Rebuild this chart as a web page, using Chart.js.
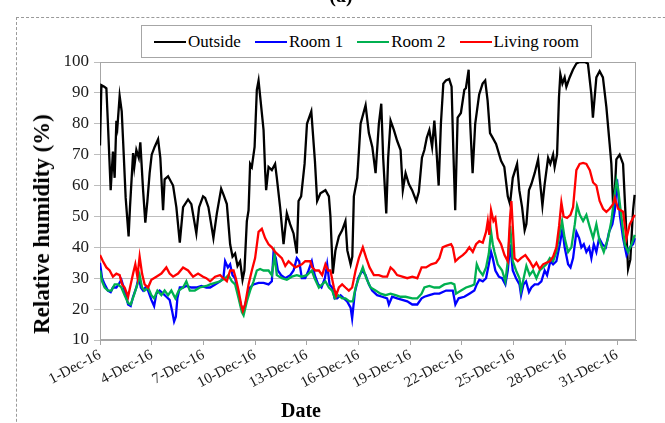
<!DOCTYPE html>
<html>
<head>
<meta charset="utf-8">
<script src="https://cdn.jsdelivr.net/npm/chart.js@4.4.1/dist/chart.umd.min.js"></script>
<style>
  html, body { margin:0; padding:0; background:#fff; }
  #wrap { position:relative; width:665px; height:423px; overflow:hidden; background:#fff; font-family:"Liberation Serif", "Times New Roman", serif; }
  #frame { position:absolute; left:16px; top:17px; width:700px; height:450px; border:1px dashed #9a9a9a; box-sizing:border-box; }
  #c { position:absolute; left:0; top:0; }
  #legend { position:absolute; left:141px; top:25px; width:451px; height:33px; border:1px solid #a6a6a6; box-sizing:border-box; background:#fff;
            display:flex; align-items:center; justify-content:center; font-size:17px; color:#000; }
  .it { display:flex; align-items:center; margin:0 7px; white-space:nowrap; }
  .sw { display:inline-block; width:32px; height:2px; margin-right:2px; }
  #ytitle { position:absolute; left:42px; top:224px; transform:translate(-50%,-50%) rotate(-90deg); font-weight:bold; font-size:23px; white-space:nowrap; color:#000; }
  #xtitle { position:absolute; left:301px; top:410px; transform:translate(-50%,-50%); font-weight:bold; font-size:20px; color:#000; }
  #ptitle { position:absolute; left:341px; top:-5px; transform:translate(-50%,-50%); font-weight:bold; font-size:20px; color:#000; }
</style>
</head>
<body>
<div id="wrap">
  <div id="frame"></div>
  <canvas id="c" width="665" height="423"></canvas>
  <div id="ptitle">(a)</div>
  <div id="legend"></div>
  <div id="ytitle">Relative humidity (%)</div>
  <div id="xtitle">Date</div>
</div>
<script>
// ---- Data (x = days since 1-Dec-16 00:00, y = relative humidity %) ----
const tickDays = [0, 3, 6, 9, 12, 15, 18, 21, 24, 27, 30];
const tickLabels = ['1-Dec-16','4-Dec-16','7-Dec-16','10-Dec-16','13-Dec-16','16-Dec-16','19-Dec-16','22-Dec-16','25-Dec-16','28-Dec-16','31-Dec-16'];
const seriesNames = ['Outside', 'Room 1', 'Room 2', 'Living room'];

const outsideDays = [0.00,0.08,0.25,0.37,0.46,0.62,0.75,0.85,0.95,1.01,1.14,1.26,1.34,1.49,1.66,1.74,1.92,1.99,2.11,2.25,2.34,2.50,2.63,2.75,2.88,3.00,3.17,3.37,3.50,3.66,3.75,3.95,4.24,4.43,4.63,4.82,5.11,5.30,5.59,5.75,5.98,6.10,6.29,6.58,6.78,7.03,7.17,7.36,7.55,7.69,7.84,7.98,8.13,8.27,8.38,8.52,8.62,8.71,8.81,8.97,9.10,9.20,9.29,9.49,9.58,9.64,9.78,9.97,10.16,10.26,10.45,10.65,10.84,11.03,11.23,11.42,11.52,11.67,11.87,12.01,12.26,12.47,12.60,12.79,13.08,13.28,13.37,13.51,13.66,13.86,14.05,14.24,14.35,14.54,14.64,14.73,14.93,15.12,15.31,15.41,15.60,15.80,15.99,16.18,16.32,16.43,16.61,16.72,16.86,17.05,17.24,17.44,17.57,17.73,17.92,18.11,18.35,18.50,18.68,18.82,18.96,19.11,19.27,19.40,19.50,19.65,19.78,19.92,20.07,20.26,20.40,20.50,20.61,20.75,20.94,21.14,21.23,21.39,21.48,21.62,21.77,22.00,22.20,22.35,22.49,22.63,22.78,22.98,23.27,23.46,23.66,23.79,23.95,24.20,24.33,24.49,24.64,24.74,24.89,25.03,25.22,25.42,25.51,25.67,25.80,26.00,26.13,26.29,26.38,26.52,26.63,26.71,26.83,26.96,27.06,27.25,27.44,27.64,27.83,28.12,28.31,28.51,28.60,28.80,28.99,29.18,29.38,29.57,29.67,29.80,29.96,30.15,30.35,30.48,30.64,30.77,30.93,31.02];
const outsideRH = [73,92.5,92,91.5,80,58.5,71,62.5,81,79,89,84,74.5,56,43.5,53,70.5,66,71.5,69,74,58.5,48,55,64,70,72.5,75,69,52,62,63,60,53,41.5,53,55.5,54,44.5,53,56.5,56,53,43,51,59,57,54,41,37,38,34,35.5,29.5,32.5,48.5,52,67,66,72.5,91,94,89,78,65,58.5,66,65,67,62.5,53,41,51,47.5,44.5,38,55,56.5,67,80,84,68,55,57.5,58.5,56.5,50,31.5,39,43.5,45.5,48.5,39,34.5,37,56.5,62.5,80,84,86,77,72.5,64,80,86.5,69,51,69,81,78,74.5,71.5,58.5,64,60.5,58.5,55,58,69,71.5,75.5,78,72.5,81,73.5,60,80,93,94,94.5,92,71.5,52,82,83.5,91,91.5,97.5,80,64,80,89.5,93,94,87.5,77,75.5,73.5,68,66,56.5,54,62.5,67,58.5,53,45.5,47.5,58.5,60.5,64,68.5,62.5,53.5,60.5,69,67,70,66,70,88.5,96,93,95,92,95,97.5,99.5,100,100,99.5,89.5,82,95,97,95,85.5,73.5,67,50,68.5,70,67,52,33,36,52,57];

const room1Days = [0.00,0.12,0.27,0.46,0.62,0.75,0.95,1.08,1.24,1.43,1.63,1.78,1.92,2.11,2.25,2.37,2.50,2.63,2.79,2.98,3.14,3.27,3.46,3.66,3.85,4.04,4.18,4.30,4.40,4.49,4.63,4.82,5.01,5.30,5.59,5.88,6.17,6.39,6.68,6.97,7.16,7.26,7.42,7.55,7.69,7.84,8.04,8.23,8.33,8.52,8.71,8.91,9.20,9.49,9.78,9.97,10.07,10.20,10.32,10.51,10.75,11.04,11.23,11.42,11.56,11.71,11.91,12.10,12.29,12.46,12.66,12.85,13.05,13.18,13.32,13.47,13.61,13.76,13.96,14.15,14.34,14.54,14.63,14.79,14.98,15.21,15.41,15.60,15.79,16.08,16.37,16.66,16.76,16.95,17.24,17.54,17.83,18.12,18.41,18.66,18.82,19.11,19.40,19.69,20.08,20.47,20.62,20.81,21.14,21.43,21.72,21.86,22.01,22.21,22.40,22.56,22.69,22.79,22.94,23.14,23.33,23.52,23.66,23.80,23.95,24.14,24.34,24.43,24.57,24.72,24.89,25.03,25.22,25.42,25.61,25.80,25.94,26.13,26.29,26.48,26.68,26.83,26.96,27.16,27.30,27.45,27.64,27.80,27.93,28.07,28.22,28.38,28.51,28.65,28.80,28.96,29.15,29.35,29.54,29.73,29.87,30.00,30.16,30.35,30.55,30.74,30.93,31.03];
const room1RH = [35,30,28,26,25.5,27,27,28,29.5,26,21.5,21,24,27,30.5,27,26,27,26,23,21,25,26,25,24,23,19.5,16,17.5,23.5,27,27,27.5,27,27,27.5,27,27,28,29,30,35.5,33.5,34.5,31,30,24.5,20,19.5,23.5,27,28,28.5,28.5,28,29,38.5,36.5,32.5,31,30,31,32.5,36.5,35.5,30,30,32.5,35.5,31,28,27,30,34.5,28,27,23.5,23.5,24.5,23.5,22.5,20.5,17,25.5,30,32.5,31,28,26,24.5,24,23.5,21.5,24,23.5,23,22.5,21.5,21.5,23.5,24,24.5,25,25,26,26,21.5,23.5,24,25,26,28,29.5,29,30,34.5,38.5,36.5,32.5,30.5,30,28,32.5,41,32.5,30,28,24.5,28,29,25.5,27,28,28,29,32.5,31,35.5,34.5,35.5,41,46,40,34.5,33.5,36.5,45,43,40,41,38.5,40,36.5,41,38.5,43,41,40,45,47.5,52,62,50.5,43,37.5,40,41,43];

const room2Days = [0.00,0.12,0.27,0.46,0.66,0.85,1.05,1.24,1.43,1.63,1.78,1.97,2.17,2.30,2.44,2.59,2.79,2.98,3.14,3.33,3.56,3.75,3.95,4.14,4.37,4.57,4.82,5.01,5.21,5.50,5.79,6.17,6.39,6.68,6.97,7.26,7.45,7.65,7.84,8.04,8.23,8.33,8.52,8.71,8.91,9.10,9.29,9.49,9.78,9.97,10.13,10.26,10.55,10.84,11.13,11.42,11.71,12.01,12.29,12.45,12.70,12.89,13.08,13.28,13.47,13.63,13.82,14.05,14.24,14.48,14.67,14.83,15.02,15.25,15.45,15.70,15.99,16.28,16.57,16.86,17.15,17.44,17.73,18.12,18.41,18.66,18.82,19.11,19.40,19.69,19.98,20.37,20.56,20.66,20.95,21.24,21.53,21.72,21.86,22.01,22.21,22.40,22.56,22.69,22.79,22.89,23.08,23.33,23.52,23.66,23.80,23.95,24.14,24.34,24.43,24.62,24.74,24.93,25.13,25.32,25.51,25.71,25.90,26.10,26.29,26.48,26.68,26.81,26.96,27.16,27.35,27.55,27.68,27.84,28.03,28.22,28.42,28.61,28.80,28.99,29.23,29.48,29.67,29.81,29.97,30.06,30.26,30.45,30.64,30.84,31.03];
const room2RH = [32.5,29,27,26,26,28,28,27,24.5,22,21.5,24.5,28,31,27,26,27,24.5,23.5,26,24.5,26,24.5,26,23.5,26,27,29,26,26,27,27.5,28,28.5,29,30,31,29,28,23.5,19,18,22.5,26,29,32.5,33,32.5,32.5,31,37.5,31,30,29.5,30.5,31,30.5,31,32.5,30,27,28,29,27,26,23.5,24.5,23.5,23.5,22.5,22.5,27,30,33.5,30,27,26,25,24.5,25,24.5,24,24,23.5,23.5,25,27,27.5,27,27,28,28.5,28,25,26,27,27.5,28,34.5,32.5,31,33.5,38,45,41,38.5,34.5,32.5,29,35.5,47,35.5,32.5,30,26,31,34,31,32.5,30,32.5,33.5,34.5,36.5,35.5,38.5,45,48.5,43,38.5,40,47.5,53.5,50.5,48.5,50.5,46.5,43,47.5,42,38.5,43,48.5,55,61.5,59,49.5,41,38.5,41,44];

const livingDays = [0.00,0.17,0.37,0.56,0.75,0.95,1.14,1.28,1.43,1.63,1.78,1.92,2.05,2.17,2.30,2.44,2.59,2.79,2.98,3.27,3.56,3.85,4.04,4.24,4.53,4.82,5.11,5.40,5.69,5.98,6.17,6.39,6.68,6.97,7.16,7.36,7.55,7.75,7.88,8.04,8.19,8.29,8.42,8.62,8.81,9.00,9.20,9.39,9.58,9.78,9.97,10.16,10.36,10.55,10.75,10.94,11.13,11.33,11.52,11.71,11.91,12.20,12.31,12.50,12.70,12.89,13.08,13.24,13.37,13.57,13.70,13.86,14.05,14.24,14.44,14.63,14.83,15.02,15.25,15.45,15.64,15.89,16.18,16.41,16.66,16.86,17.05,17.24,17.54,17.83,18.12,18.41,18.66,18.92,19.21,19.50,19.69,19.88,20.08,20.37,20.47,20.62,20.81,21.05,21.24,21.43,21.63,21.82,22.01,22.21,22.40,22.50,22.59,22.69,22.83,22.94,23.08,23.27,23.47,23.66,23.79,23.87,24.05,24.24,24.43,24.68,24.93,25.13,25.32,25.51,25.71,25.90,26.10,26.29,26.48,26.64,26.77,26.90,27.10,27.30,27.45,27.64,27.83,28.03,28.22,28.42,28.61,28.80,28.99,29.19,29.38,29.57,29.77,29.87,30.06,30.35,30.55,30.74,30.93,31.03];
const livingRH = [37.5,35.5,33.5,32.5,30.5,31.5,31,28,27,24,28,31.5,34.5,30.5,37,31.5,28,27,29.5,30.5,31.5,33.5,31.5,30.5,31.5,33.5,32.5,30.5,31.5,30.5,30,29,30.5,31,30,29,32.5,32.5,30,26,21.5,19.5,21.5,28,32.5,36.5,45,46,43,41,40,38.5,37.5,36.5,34,35.5,34.5,33.5,34,34.5,35.5,35.5,33.5,32.5,32.5,31,34.5,32.5,32.5,27,24.5,27,28,27,26,27,32.5,36.5,40,36.5,33.5,31,31,30.5,30.5,33.5,32.5,31,30.5,30,30.5,30,33.5,33.5,34.5,35,36.5,40,40.5,41,40,35.5,36.5,37.5,38.5,40,38.5,41,42,41.5,45,48.5,44,52,48.5,49.5,43,41,37.5,35.5,49.5,55,36.5,35.5,36.5,37.5,35.5,33.5,35,33,34.5,35,35.5,37,40,47,54.5,50,49.5,50.5,53,65,67,67.3,67,65,61,60,55,52.5,51.5,52.5,54,56,52.5,51.5,43,47.5,49.5,50.5];

const seriesColors = ['#000000', '#0000ff', '#00b050', '#ff0000'];

// ---- Build datasets ----
function pts(xs, ys) { return xs.map((x, i) => ({ x: x, y: ys[i] })); }
const seriesData = [pts(outsideDays, outsideRH), pts(room1Days, room1RH), pts(room2Days, room2RH), pts(livingDays, livingRH)];

// HTML legend
const lg = document.getElementById('legend');
seriesNames.forEach((n, i) => {
  const it = document.createElement('span'); it.className = 'it';
  const sw = document.createElement('span'); sw.className = 'sw'; sw.style.background = seriesColors[i];
  const tx = document.createElement('span'); tx.textContent = n;
  it.appendChild(sw); it.appendChild(tx); lg.appendChild(it);
});

Chart.defaults.font.family = '"Liberation Serif", "Times New Roman", serif';
Chart.defaults.color = '#1a1a1a';

const frame = {
  id: 'frame',
  beforeDatasetsDraw(chart) {
    const a = chart.chartArea, ctx = chart.ctx;
    ctx.save(); ctx.strokeStyle = '#a6a6a6'; ctx.lineWidth = 1;
    ctx.strokeRect(a.left + 0.5, a.top + 0.5, a.right - a.left - 1, a.bottom - a.top - 1);
    ctx.restore();
  }
};

new Chart(document.getElementById('c'), {
  type: 'line',
  data: {
    datasets: seriesNames.map((n, i) => ({
      label: n, data: seriesData[i], borderColor: seriesColors[i], backgroundColor: seriesColors[i],
      borderWidth: 2.3, pointRadius: 0, tension: 0, fill: false, order: 4 - i
    }))
  },
  options: {
    responsive: false, animation: false, devicePixelRatio: 1,
    layout: { padding: { top: 62, right: 29, left: 0, bottom: 0 } },
    plugins: { legend: { display: false }, tooltip: { enabled: false } },
    scales: {
      x: {
        type: 'linear', min: 0, max: 31.1,
        afterBuildTicks: (s) => { s.ticks = tickDays.map(v => ({ value: v })); },
        afterFit: (s) => { s.height = 83; },
        grid: { drawOnChartArea: false, drawTicks: true, tickLength: 5, color: '#a6a6a6' },
        border: { color: '#a6a6a6' },
        ticks: { autoSkip: false, maxRotation: 28, minRotation: 28, padding: 1, font: { size: 15 },
                 callback: (v) => tickLabels[tickDays.indexOf(v)] }
      },
      y: {
        min: 10, max: 100,
        afterFit: (s) => { s.width = 100; },
        grid: { color: '#bdbdbd', lineWidth: 1, tickLength: 6, drawTicks: true },
        border: { color: '#a6a6a6' },
        ticks: { stepSize: 10, padding: 5, font: { size: 17 } }
      }
    }
  },
  plugins: [frame]
});
</script>
</body>
</html>
